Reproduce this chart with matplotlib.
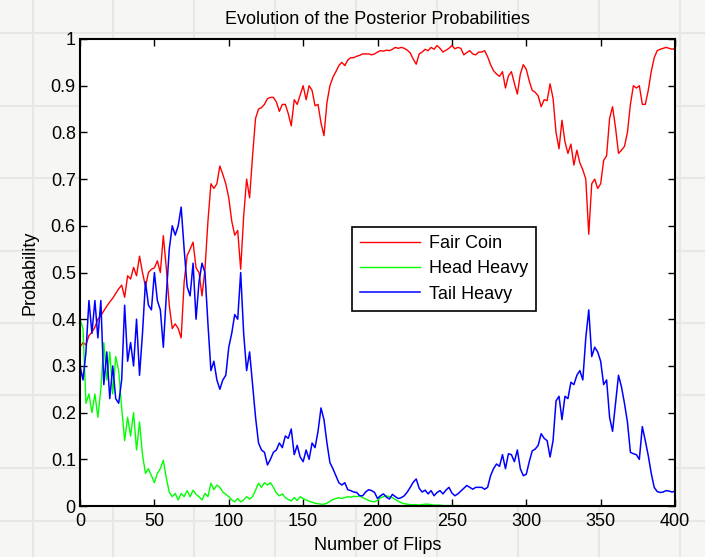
import matplotlib
matplotlib.use("Agg")
import matplotlib.pyplot as plt
import numpy as np
from matplotlib.lines import Line2D

flips = np.arange(0, 401, 2)

fair_coin = [
    0.34, 0.35, 0.345, 0.365, 0.372, 0.383, 0.40, 0.408, 0.418, 0.428,
    0.437, 0.445, 0.455, 0.465, 0.473, 0.447, 0.493, 0.486, 0.511, 0.493,
    0.535, 0.50, 0.47, 0.50, 0.507, 0.51, 0.525, 0.50, 0.579, 0.51,
    0.43, 0.38, 0.39, 0.38, 0.36, 0.48, 0.536, 0.55, 0.565, 0.51,
    0.50, 0.45, 0.507, 0.61, 0.69, 0.68, 0.69, 0.728, 0.71, 0.69,
    0.66, 0.61, 0.58, 0.59, 0.507, 0.62, 0.70, 0.66, 0.75, 0.83,
    0.85, 0.853, 0.86, 0.872, 0.875, 0.875, 0.865, 0.845, 0.86, 0.86,
    0.84, 0.814, 0.87, 0.86, 0.88, 0.90, 0.87, 0.90, 0.89, 0.857,
    0.86, 0.82, 0.793, 0.864, 0.90, 0.918, 0.93, 0.943, 0.95, 0.943,
    0.955, 0.96, 0.96, 0.963, 0.965, 0.968, 0.968, 0.968, 0.966, 0.968,
    0.972, 0.975, 0.974, 0.976, 0.975, 0.978, 0.982, 0.98, 0.982, 0.98,
    0.976, 0.97, 0.957, 0.946, 0.968, 0.972, 0.978, 0.975, 0.982, 0.978,
    0.986, 0.98, 0.972, 0.976, 0.98, 0.986, 0.979, 0.982, 0.98, 0.966,
    0.971, 0.975, 0.968, 0.966, 0.972, 0.972, 0.975, 0.962, 0.945, 0.932,
    0.925, 0.92, 0.93, 0.895, 0.921, 0.93, 0.905, 0.882, 0.925, 0.945,
    0.935, 0.91, 0.89, 0.886, 0.878, 0.855, 0.87, 0.868, 0.904, 0.873,
    0.80, 0.765, 0.826, 0.78, 0.755, 0.775, 0.73, 0.762, 0.735, 0.72,
    0.70, 0.582, 0.69, 0.70, 0.68, 0.69, 0.74, 0.75, 0.83, 0.855,
    0.81, 0.755, 0.762, 0.77, 0.80, 0.86, 0.90, 0.895, 0.90, 0.86,
    0.86, 0.89, 0.93, 0.96, 0.975, 0.978, 0.98, 0.982, 0.98, 0.978,
    0.98,
]

head_heavy = [
    0.40, 0.38, 0.22, 0.24, 0.20, 0.24, 0.19, 0.25, 0.35, 0.27,
    0.33, 0.24, 0.32, 0.29, 0.21, 0.14, 0.19, 0.15, 0.20, 0.12,
    0.18, 0.11, 0.07, 0.08, 0.065, 0.05, 0.07, 0.08, 0.098, 0.06,
    0.03, 0.02, 0.027, 0.013, 0.027, 0.02, 0.033, 0.02, 0.034, 0.025,
    0.02, 0.013, 0.027, 0.02, 0.049, 0.035, 0.045, 0.04, 0.03, 0.025,
    0.02, 0.013, 0.009, 0.016, 0.009, 0.013, 0.02, 0.015, 0.02, 0.034,
    0.049, 0.04, 0.05, 0.045, 0.05, 0.04, 0.028, 0.022, 0.026, 0.018,
    0.014, 0.011, 0.018, 0.012, 0.02, 0.016, 0.013, 0.01, 0.008, 0.006,
    0.005, 0.004, 0.004, 0.006, 0.01, 0.014, 0.016, 0.018, 0.016, 0.018,
    0.02, 0.019, 0.021, 0.02, 0.022, 0.018, 0.015, 0.012, 0.01, 0.009,
    0.012, 0.018, 0.02, 0.022, 0.02, 0.018, 0.014, 0.01, 0.007, 0.005,
    0.004, 0.003, 0.003, 0.003, 0.002, 0.003, 0.004, 0.004, 0.003, 0.002,
    0.002, 0.002, 0.001, 0.001, 0.001, 0.001, 0.001, 0.001, 0.0, 0.0,
    0.0, 0.0, 0.0, 0.0, 0.0, 0.0, 0.0, 0.0, 0.0, 0.0,
    0.0, 0.0, 0.0, 0.0, 0.0, 0.0, 0.0, 0.0, 0.0, 0.0,
    0.0, 0.0, 0.0, 0.0, 0.0, 0.0, 0.0, 0.0, 0.0, 0.0,
    0.0, 0.0, 0.0, 0.0, 0.0, 0.0, 0.0, 0.0, 0.0, 0.0,
    0.0, 0.0, 0.0, 0.0, 0.0, 0.0, 0.0, 0.0, 0.0, 0.0,
    0.0, 0.0, 0.0, 0.0, 0.0, 0.0, 0.0, 0.0, 0.0, 0.0,
    0.0, 0.0, 0.0, 0.0, 0.0, 0.0, 0.0, 0.0, 0.0, 0.0,
    0.0,
]

tail_heavy = [
    0.30, 0.27, 0.33, 0.44, 0.37, 0.44, 0.36, 0.44, 0.26, 0.33,
    0.23, 0.30, 0.23, 0.22, 0.27, 0.43, 0.31, 0.35, 0.30, 0.40,
    0.28, 0.37, 0.48, 0.43, 0.42, 0.50, 0.44, 0.42, 0.34, 0.45,
    0.55, 0.60, 0.58, 0.60, 0.64, 0.55, 0.47, 0.45, 0.52, 0.40,
    0.48, 0.52, 0.50, 0.39, 0.29, 0.31, 0.27, 0.25, 0.27, 0.28,
    0.34, 0.37, 0.41, 0.40, 0.50, 0.37, 0.29, 0.33, 0.26, 0.19,
    0.135, 0.12, 0.115, 0.088, 0.10, 0.115, 0.12, 0.135, 0.125, 0.15,
    0.145, 0.165, 0.11, 0.13, 0.105, 0.095, 0.12, 0.10, 0.135, 0.125,
    0.16, 0.21, 0.185, 0.135, 0.093, 0.08, 0.065, 0.05, 0.045, 0.05,
    0.035, 0.033, 0.03, 0.029, 0.022, 0.022, 0.03, 0.035, 0.033, 0.029,
    0.016, 0.022, 0.026, 0.019, 0.015, 0.025, 0.02, 0.016, 0.018, 0.022,
    0.03, 0.04, 0.051, 0.058, 0.038, 0.03, 0.034, 0.026, 0.033, 0.022,
    0.029, 0.033, 0.026, 0.034, 0.04, 0.028, 0.022, 0.026, 0.032, 0.038,
    0.044, 0.04, 0.036, 0.04, 0.04, 0.04, 0.036, 0.04, 0.065, 0.08,
    0.09, 0.085, 0.11, 0.08, 0.112, 0.11, 0.095, 0.12, 0.08, 0.065,
    0.068, 0.095, 0.118, 0.122, 0.13, 0.155, 0.145, 0.14, 0.105, 0.14,
    0.225, 0.235, 0.185, 0.235, 0.23, 0.265, 0.26, 0.28, 0.29, 0.27,
    0.36, 0.42, 0.32, 0.34, 0.33, 0.31, 0.26, 0.27, 0.19, 0.16,
    0.22, 0.28, 0.255, 0.22, 0.18, 0.115, 0.112, 0.11, 0.10, 0.17,
    0.14, 0.108, 0.07, 0.04, 0.031, 0.029, 0.03, 0.033, 0.032, 0.03,
    0.032,
]

x_ticks = np.arange(0, 401, 50)
y_ticks = np.round(np.arange(0, 1.01, 0.1), 1)
y_tick_labels = ['0', '0.1', '0.2', '0.3', '0.4', '0.5', '0.6', '0.7', '0.8', '0.9', '1']

plt.rcParams['font.family'] = ['Liberation Sans', 'DejaVu Sans']

fig = plt.figure(figsize=(7.05, 5.57), dpi=100, facecolor='#f6f6f4')

# faint slide-style grid in the background
for xv in [0.047, 0.16, 0.275, 0.39, 0.505, 0.62, 0.735, 0.85, 0.965]:
    fig.add_artist(Line2D([xv, xv], [0, 1], color='#e7e7e3', lw=1.5, zorder=0))
for yv in [0.065, 0.16, 0.29, 0.42, 0.55, 0.68, 0.81, 0.94]:
    fig.add_artist(Line2D([0, 1], [yv, yv], color='#e7e7e3', lw=1.5, zorder=0))

ax = fig.add_axes([0.1135, 0.0915, 0.8440, 0.8385])
ax.set_facecolor('white')

ax.plot(flips, fair_coin, color='#ff0000', lw=1.0, label='Fair Coin')
ax.plot(flips, head_heavy, color='#00ff00', lw=1.0, label='Head Heavy')
ax.plot(flips, tail_heavy, color='#0000ff', lw=1.1, label='Tail Heavy')

ax.set_xlim(0, 400)
ax.set_ylim(0, 1)
ax.set_xticks(x_ticks)
ax.set_yticks(y_ticks)
ax.set_yticklabels(y_tick_labels)
ax.tick_params(direction='in', length=5, width=1, top=True, right=True,
               labelsize=13, pad=3, colors='black')
ax.tick_params(axis='x', pad=5)
for spine in ax.spines.values():
    spine.set_linewidth(1.5)
    spine.set_color('black')

ax.set_title('Evolution of the Posterior Probabilities', fontsize=13, pad=11)
ax.set_xlabel('Number of Flips', fontsize=13, labelpad=5)
ax.set_ylabel('Probability', fontsize=13, labelpad=9)

leg = ax.legend(loc='upper left', bbox_to_anchor=(0.457, 0.597), fontsize=13,
                handlelength=3.3, handletextpad=0.5, borderpad=0.45,
                labelspacing=0.45, borderaxespad=0, fancybox=False, framealpha=1)
leg.get_frame().set_edgecolor('black')
leg.get_frame().set_linewidth(1.2)

fig.savefig('out.png', dpi=100, facecolor=fig.get_facecolor())
